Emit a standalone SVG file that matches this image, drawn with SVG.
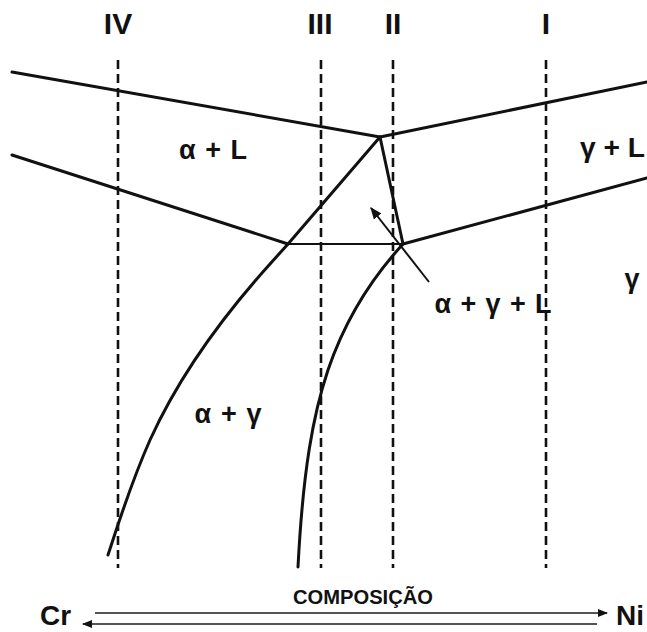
<svg xmlns="http://www.w3.org/2000/svg" width="647" height="632" viewBox="0 0 647 632">
<defs>
<style>
.t{font-family:"Liberation Sans",Arial,sans-serif;font-weight:bold;fill:#111}
.lab{font-size:27px;text-anchor:middle}
.rom{font-size:30px;text-anchor:middle}
.dash{stroke:#111;stroke-width:2.6;stroke-dasharray:9,5;fill:none}
.ln{stroke:#111;stroke-width:3;fill:none;stroke-linecap:round;stroke-linejoin:round}
.thin{stroke:#111;stroke-width:2;fill:none}
.ax{stroke:#555;stroke-width:2;fill:none}
</style>
<marker id="ahs" viewBox="0 0 10 10" refX="9" refY="5" markerWidth="6" markerHeight="6" orient="auto" markerUnits="strokeWidth">
<path d="M0,1 L10,5 L0,9 z" fill="#111"/>
</marker>
<marker id="axh" viewBox="0 0 10 10" refX="9" refY="5" markerWidth="5.5" markerHeight="5" orient="auto" markerUnits="strokeWidth">
<path d="M0,1 L10,5 L0,9 z" fill="#111"/>
</marker>
</defs>
<g id="connectors">
<line class="dash" x1="118" y1="60" x2="118" y2="568"/>
<line class="dash" x1="321" y1="60" x2="321" y2="568"/>
<line class="dash" x1="393" y1="60" x2="393" y2="568"/>
<line class="dash" x1="546" y1="60" x2="546" y2="568"/>
<polyline class="ln" points="12,72 380,137 647,82"/>
<polyline class="ln" points="12,155 288,244"/>
<line class="thin" x1="288" y1="244" x2="403" y2="244"/>
<polyline class="ln" points="403,244 647,178"/>
<line class="ln" x1="380" y1="137" x2="403" y2="244"/>
<path class="ln" d="M380,137 L288,244 L270,264 C215,325 175,385 150,440 C130,485 118,525 108,555"/>
<path class="ln" d="M403,244 C370,280 345,320 328,370 C313,415 303,470 298,567"/>
<line class="thin" x1="429" y1="282" x2="371" y2="208" marker-end="url(#ahs)"/>
<line class="ax" x1="95" y1="613" x2="607" y2="613" marker-end="url(#axh)"/>
<line class="ax" x1="597" y1="624" x2="83" y2="624" marker-end="url(#axh)"/>
</g>
<g id="n-IV"><text class="t rom" x="118" y="34">IV</text></g>
<g id="n-III"><text class="t rom" x="320" y="34">III</text></g>
<g id="n-II"><text class="t rom" x="393" y="34">II</text></g>
<g id="n-I"><text class="t rom" x="546" y="34">I</text></g>
<g id="n-aL"><text class="t lab" x="213" y="159" textLength="68" lengthAdjust="spacing">α + L</text></g>
<g id="n-gL"><text class="t" x="580" y="157" font-size="27" textLength="65" lengthAdjust="spacingAndGlyphs">γ + L</text></g>
<g id="n-agL"><text class="t lab" x="493" y="313" textLength="117" lengthAdjust="spacing">α + γ + L</text></g>
<g id="n-g"><text class="t lab" x="632" y="288">γ</text></g>
<g id="n-ag"><text class="t lab" x="228" y="423" textLength="67" lengthAdjust="spacing">α + γ</text></g>
<g id="n-comp"><text class="t" x="293" y="604" font-size="20" textLength="140" lengthAdjust="spacingAndGlyphs">COMPOSIÇÃO</text></g>
<g id="n-Cr"><text class="t" x="40" y="625" font-size="28">Cr</text></g>
<g id="n-Ni"><text class="t" x="616" y="625" font-size="28">Ni</text></g>
</svg>
